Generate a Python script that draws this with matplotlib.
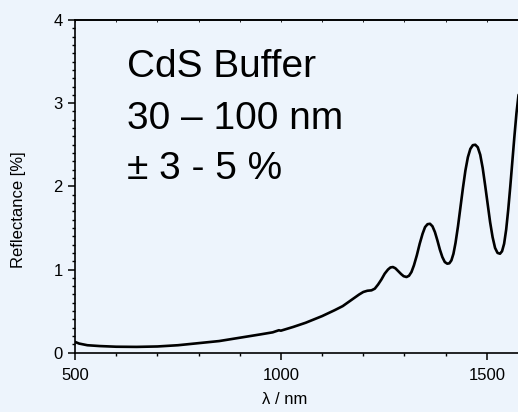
import matplotlib
matplotlib.use("Agg")
import matplotlib.pyplot as plt
from matplotlib.ticker import MultipleLocator, NullFormatter

plt.rcParams["font.family"] = ["Liberation Sans", "DejaVu Sans"]

# reflectance spectrum of the CdS buffer layer
wavelength_nm = [
    500, 510, 530, 560, 600, 650, 700, 750, 800, 850, 900, 950, 980, 995,
    1000, 1010, 1030, 1060, 1100, 1130, 1150, 1170, 1190, 1200, 1210, 1220,
    1228, 1236, 1244, 1252, 1260, 1266, 1272, 1278, 1285, 1292, 1298, 1305,
    1311, 1317, 1323, 1330, 1337, 1344, 1350, 1356, 1362, 1368, 1374, 1380,
    1386, 1392, 1398, 1404, 1409, 1414, 1419, 1424, 1430, 1436, 1442, 1448,
    1454, 1460, 1466, 1472, 1478, 1484, 1490, 1496, 1502, 1508, 1514, 1520,
    1526, 1532, 1537, 1542, 1547, 1552, 1557, 1562, 1567, 1572, 1577,
]
reflectance_pct = [
    0.13, 0.11, 0.09, 0.08, 0.072, 0.07, 0.075, 0.09, 0.115, 0.14, 0.18, 0.22,
    0.245, 0.27, 0.265, 0.28, 0.31, 0.36, 0.44, 0.51, 0.56, 0.63, 0.70, 0.73,
    0.745, 0.75, 0.77, 0.82, 0.88, 0.95, 1.00, 1.025, 1.03, 1.015, 0.98, 0.945,
    0.92, 0.91, 0.925, 0.97, 1.05, 1.17, 1.31, 1.43, 1.51, 1.545, 1.55, 1.52,
    1.45, 1.35, 1.24, 1.15, 1.09, 1.07, 1.075, 1.11, 1.19, 1.32, 1.52, 1.75,
    1.98, 2.19, 2.35, 2.45, 2.495, 2.50, 2.47, 2.38, 2.22, 2.01, 1.79, 1.57,
    1.39, 1.26, 1.20, 1.19, 1.22, 1.31, 1.48, 1.72, 2.00, 2.30, 2.60, 2.88,
    3.10,
]

annotation_lines = ["CdS Buffer", "30 \u2013 100 nm", "\u00b1 3 - 5 %"]

bg = "#edf4fc"
fig = plt.figure(figsize=(5.18, 4.12), dpi=100, facecolor=bg)
ax = fig.add_axes([0.1448, 0.1439, 0.8745, 0.8076], facecolor=bg)

ax.plot(wavelength_nm, reflectance_pct, color="black", lw=1.9,
        solid_joinstyle="round", solid_capstyle="round")

ax.set_xlim(500, 1600)
ax.set_ylim(0, 4)
ax.xaxis.set_major_locator(MultipleLocator(500))
ax.xaxis.set_minor_locator(MultipleLocator(100))
ax.yaxis.set_major_locator(MultipleLocator(1))
ax.yaxis.set_minor_locator(MultipleLocator(0.1))

ax.spines["right"].set_visible(False)
for side in ("left", "bottom", "top"):
    ax.spines[side].set_linewidth(1.2)

ax.tick_params(which="major", direction="out", length=5, width=1.1,
               labelsize=12)
ax.tick_params(which="minor", direction="out", length=2.5, width=1.0)
ax.tick_params(axis="x", which="major", pad=6)
ax.tick_params(axis="y", which="major", pad=4)

# tiny inward marks along the top edge
top = ax.secondary_xaxis("top")
top.xaxis.set_major_locator(MultipleLocator(100))
top.xaxis.set_major_formatter(NullFormatter())
top.tick_params(direction="in", length=1.5, width=0.6)
top.spines["top"].set_linewidth(1.2)

ax.set_xlabel("\u03bb / nm", fontsize=12)
ax.set_ylabel("Reflectance [%]", fontsize=12)
ax.xaxis.set_label_coords(0.4636, -0.117)
ax.yaxis.set_label_coords(-0.108, 0.43)

baselines = [0.8138, 0.6869, 0.5655]
for line, y in zip(annotation_lines, baselines):
    fig.text(0.2446, y, line, fontsize=28, va="baseline", ha="left")

fig.savefig("out.png", dpi=100, facecolor=bg)
